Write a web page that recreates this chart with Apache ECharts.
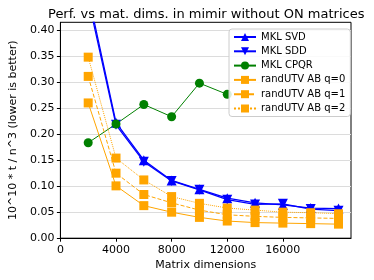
<!DOCTYPE html>
<html>
<head>
<meta charset="utf-8">
<script src="https://cdn.jsdelivr.net/npm/echarts@6/dist/echarts.min.js"></script>
<style>html,body{margin:0;padding:0;background:#fff}#c{width:374px;height:280px}</style>
</head>
<body>
<div id="c"></div>
<script>
var sizes = [2000, 4000, 6000, 8000, 10000, 12000, 14000, 16000, 18000, 20000];
var cpqrSizes = [2000, 4000, 6000, 8000, 10000, 12000];
var mklSvd = [0.47, 0.222, 0.150, 0.111, 0.094, 0.077, 0.068, 0.064, 0.058, 0.057];
var mklSdd = [0.46, 0.218, 0.147, 0.110, 0.093, 0.074, 0.065, 0.066, 0.056, 0.053];
var mklCpqr = [0.1834, 0.2195, 0.257, 0.2335, 0.298, 0.2765];
var randQ0 = [0.260, 0.1006, 0.0626, 0.050, 0.040, 0.033, 0.030, 0.029, 0.028, 0.027];
var randQ1 = [0.311, 0.125, 0.084, 0.068, 0.054, 0.045, 0.042, 0.040, 0.039, 0.038];
var randQ2 = [0.348, 0.154, 0.112, 0.080, 0.067, 0.058, 0.054, 0.050, 0.049, 0.047];
var xTicks = [0, 4000, 8000, 12000, 16000];
var yTicks = [0, 0.05, 0.1, 0.15, 0.2, 0.25, 0.3, 0.35, 0.4];
var titleText = 'Perf. vs mat. dims. in mimir without ON matrices';
var xName = 'Matrix dimensions';
var yName = '10^10 * t / n^3 (lower is better)';
var names = ['MKL SVD', 'MKL SDD', 'MKL CPQR', 'randUTV AB q=0', 'randUTV AB q=1', 'randUTV AB q=2'];

function pairs(xs, ys) { return xs.map(function (x, i) { return [x, ys[i]]; }); }
var FONT = 'DejaVu Sans';
var chart = echarts.init(document.getElementById('c'), null, { renderer: 'canvas' });

function mk(name, xs, ys, color, symbol, size, width, type, rotate) {
  return {
    name: name, type: 'line', data: pairs(xs, ys),
    symbol: symbol, symbolSize: size, symbolRotate: rotate || 0,
    showAllSymbol: true, clip: true, animation: false,
    itemStyle: { color: color, opacity: 1 },
    lineStyle: { color: color, width: width, type: type },
    emphasis: { disabled: true }
  };
}

chart.setOption({
  animation: false,
  textStyle: { fontFamily: FONT },
  title: {
    text: titleText, left: 43, top: 3,
    textStyle: { fontFamily: FONT, fontSize: 13, fontWeight: 'normal', color: '#000' }
  },
  grid: {
    left: 54, right: 23, top: 22.3, bottom: 41.8,
    show: true, borderColor: '#000', borderWidth: 1, backgroundColor: 'transparent'
  },
  legend: {
    orient: 'vertical', left: 229, top: 29,
    padding: [3, 5, 3, 4], itemGap: 4.3, itemWidth: 22, itemHeight: 10,
    backgroundColor: 'rgba(255,255,255,0.85)', borderColor: '#ccc', borderWidth: 1, borderRadius: 3,
    textStyle: { fontFamily: FONT, fontSize: 10, color: '#000' },
    data: names
  },
  xAxis: {
    type: 'value', min: 0, max: 20900, interval: 4000,
    name: xName, nameLocation: 'middle', nameGap: 19,
    nameTextStyle: { fontFamily: FONT, fontSize: 11, color: '#000' },
    axisLine: { show: true, lineStyle: { color: '#000', width: 1 } },
    axisTick: { show: true, length: 3.5, lineStyle: { color: '#000' }, customValues: xTicks },
    axisLabel: {
      fontFamily: FONT, fontSize: 11, color: '#000', margin: 6, customValues: xTicks,
      formatter: function (v) { return String(v); }
    },
    splitLine: { show: false }
  },
  yAxis: {
    type: 'value', min: 0, max: 0.415, interval: 0.05,
    name: yName, nameLocation: 'middle', nameGap: 40, nameRotate: 90,
    nameTextStyle: { fontFamily: FONT, fontSize: 11, color: '#000' },
    axisLine: { show: true, lineStyle: { color: '#000', width: 1 } },
    axisTick: { show: true, length: 3.5, lineStyle: { color: '#000' }, customValues: yTicks },
    axisLabel: {
      fontFamily: FONT, fontSize: 11, color: '#000', margin: 6, customValues: yTicks,
      formatter: function (v) { return v.toFixed(2); }
    },
    splitLine: { show: true, lineStyle: { color: '#dcdcdc', width: 1 } }
  },
  series: [
    mk(names[0], sizes, mklSvd, '#0000ff', 'triangle', 10, 1.3, 'solid'),
    mk(names[1], sizes, mklSdd, '#0000ff', 'triangle', 10, 1.3, 'solid', 180),
    mk(names[2], cpqrSizes, mklCpqr, '#008000', 'circle', 9, 1, 'solid'),
    mk(names[3], sizes, randQ0, '#ffa500', 'rect', 9, 1, 'solid'),
    mk(names[4], sizes, randQ1, '#ffa500', 'rect', 9, 1, 'dashed'),
    mk(names[5], sizes, randQ2, '#ffa500', 'rect', 9, 1, 'dotted')
  ]
});
</script>
</body>
</html>
